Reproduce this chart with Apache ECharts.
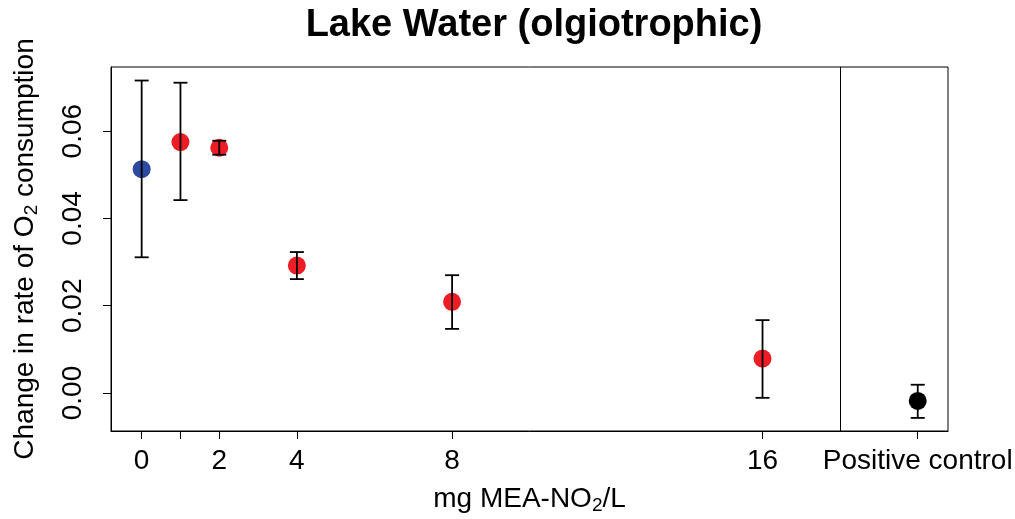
<!DOCTYPE html>
<html>
<head>
<meta charset="utf-8">
<script src="https://cdn.jsdelivr.net/npm/echarts@6/dist/echarts.min.js"></script>
<style>
  html, body { margin: 0; padding: 0; background: #fff; }
  #chart { width: 1015px; height: 519px; }
</style>
</head>
<body>
<div id="chart"></div>
<script>
// x positions of each group (positive control is drawn at 20)
var xPos = [0, 1, 2, 4, 8, 16, 20]
var xTickLabels = { 0: '0', 2: '2', 4: '4', 8: '8', 16: '16', 20: 'Positive control' }
var means = [0.0513, 0.0575, 0.0562, 0.0292, 0.0209, 0.0079, -0.0018]
var upper = [0.0716, 0.0711, 0.0578, 0.0323, 0.0270, 0.0167, 0.0019]
var lower = [0.0311, 0.0442, 0.0546, 0.0261, 0.0147, -0.0011, -0.0057]
var pointColors = ['#2d4aa0', '#ee1c25', '#ee1c25', '#ee1c25', '#ee1c25', '#ee1c25', '#000000']
var yTicks = [0, 0.02, 0.04, 0.06]
var dividerX = 18

var font = '"Liberation Sans", Arial, Helvetica, sans-serif'
var chart = echarts.init(document.getElementById('chart'))

chart.setOption({
  animation: false,
  title: {
    text: 'Lake Water (olgiotrophic)',
    left: 529, top: 2,
    textAlign: 'center',
    textStyle: { fontFamily: font, fontWeight: 'bold', fontSize: 38, color: '#000' }
  },
  grid: {
    left: 111, right: 67, top: 67, bottom: 88,
    outerBoundsMode: 'none',
    containLabel: false,
    show: true, borderColor: '#000', borderWidth: 1
  },
  xAxis: {
    type: 'value',
    min: -0.79, max: 20.78,
    splitLine: { show: false },
    axisLine: { show: true, onZero: false, lineStyle: { color: '#000' } },
    axisTick: { show: true, length: 8, lineStyle: { color: '#000' }, customValues: xPos },
    axisLabel: {
      fontFamily: font, fontSize: 28, color: '#000', margin: 16,
      customValues: [0, 2, 4, 8, 16, 20],
      formatter: function (v) { return xTickLabels[v] || '' }
    },
    name: 'mg MEA-NO{sub|2}/L',
    nameLocation: 'middle',
    nameGap: 52,
    nameTextStyle: {
      fontFamily: font, fontSize: 28, color: '#000',
      rich: { sub: { fontFamily: font, fontSize: 19, color: '#000', padding: [13, 0, 0, 0] } }
    }
  },
  yAxis: {
    type: 'value',
    min: -0.0087, max: 0.0747,
    splitLine: { show: false },
    axisLine: { show: true, onZero: false, lineStyle: { color: '#000' } },
    axisTick: { show: true, length: 8, lineStyle: { color: '#000' }, customValues: yTicks },
    axisLabel: {
      fontFamily: font, fontSize: 28, color: '#000', margin: 24, rotate: 90,
      customValues: yTicks,
      formatter: function (v) { return v.toFixed(2) }
    },
    name: 'Change in rate of O{sub|2} consumption',
    nameLocation: 'middle',
    nameRotate: 90,
    nameGap: 70,
    nameTextStyle: {
      fontFamily: font, fontSize: 28, color: '#000',
      rich: { sub: { fontFamily: font, fontSize: 19, color: '#000', padding: [13, 0, 0, 0] } }
    }
  },
  series: [
    {
      type: 'scatter',
      symbolSize: 18,
      z: 2,
      data: xPos.map(function (x, i) {
        return { value: [x, means[i]], itemStyle: { color: pointColors[i], opacity: 1 } }
      }),
      markLine: {
        silent: true,
        symbol: 'none',
        label: { show: false },
        lineStyle: { color: '#000', width: 1, type: 'solid' },
        data: [{ xAxis: dividerX }]
      }
    },
    {
      type: 'custom',
      z: 3,
      data: xPos.map(function (x, i) { return [x, lower[i], upper[i]] }),
      renderItem: function (params, api) {
        var lo = api.coord([api.value(0), api.value(1)])
        var hi = api.coord([api.value(0), api.value(2)])
        var cap = 7
        var style = { stroke: '#000', lineWidth: 1.8 }
        return {
          type: 'group',
          children: [
            { type: 'line', shape: { x1: lo[0], y1: lo[1], x2: hi[0], y2: hi[1] }, style: style },
            { type: 'line', shape: { x1: lo[0] - cap, y1: lo[1], x2: lo[0] + cap, y2: lo[1] }, style: style },
            { type: 'line', shape: { x1: hi[0] - cap, y1: hi[1], x2: hi[0] + cap, y2: hi[1] }, style: style }
          ]
        }
      }
    }
  ]
})
</script>
</body>
</html>
